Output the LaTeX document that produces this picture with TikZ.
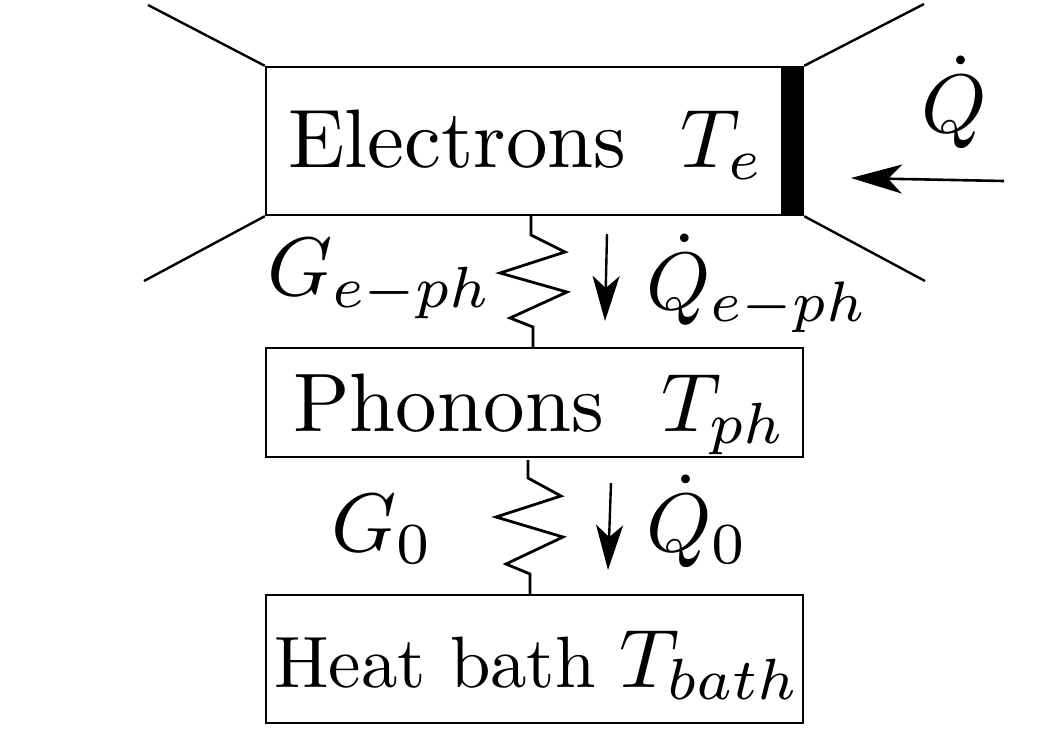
\documentclass[tikz,border=0pt,10pt]{standalone}
\usepackage{graphicx}
\usetikzlibrary{arrows.meta,calc}
\tikzset{
  thermalbox/.style={draw=black,line width=2.4pt,inner sep=0pt,fill=none},
  txt/.style={inner sep=0pt,anchor=base west,text=black},
  wing/.style={draw=black,line width=2.4pt},
  spring/.style={draw=black,line width=2.8pt,line join=miter},
  flow/.style={draw=black,line width=2.4pt,-{Stealth[length=45pt,width=27pt,inset=12pt]}},
}
\newcommand{\bigtx}[1]{\scalebox{8.3}{#1}}
\newcommand{\midtx}[1]{\scalebox{7.28}{#1}}
\begin{document}
\begin{tikzpicture}[x=1pt,y=-1pt]
\useasboundingbox (0,0) rectangle (1053,745);
\fill[white] (0,0) rectangle (1053,745);
% boxes
\node[thermalbox,minimum width=537pt,minimum height=148pt] (el) at (534.5,141) {};
\node[thermalbox,minimum width=537pt,minimum height=109pt] (ph) at (534.5,402.5) {};
\node[thermalbox,minimum width=537pt,minimum height=128pt] (hb) at (534.5,659) {};
\fill[black] (el.north east) rectangle ($(el.south east)+(-23,0)$);
% wings
\coordinate (w1) at (148,5);
\coordinate (w2) at (924,4);
\coordinate (w3) at (144,281);
\coordinate (w4) at (925,281);
\draw[wing] (el.north west) -- (w1);
\draw[wing] (el.north east) -- (w2);
\draw[wing] (el.south west) -- (w3);
\draw[wing] (el.south east) -- (w4);
% texts
\node[txt] (t1) at (288,167) {\bigtx{Electrons}};
\node[txt] (t2) at (680,167) {\bigtx{$T_e$}};
\node[txt] (t3) at (293,431) {\bigtx{Phonons}};
\node[txt] (t4) at (661,431) {\bigtx{$T_{ph}$}};
\node[txt] (t5) at (274,687) {\midtx{Heat bath}};
\node[txt] (t6) at (619,687) {\scalebox{8.3}{$T_{bath}$}};
\node[txt] (t7) at (921,132) {\bigtx{$\dot Q$}};
\node[txt] (t8) at (267,295) {\bigtx{$G_{e-ph}$}};
\node[txt] (t9) at (646,309) {\scalebox{8.15}{$\dot Q_{e-ph}$}};
\node[txt] (t10) at (331,551) {\bigtx{$G_0$}};
\node[txt] (t11) at (646,551) {\bigtx{$\dot Q_0$}};
% springs
\coordinate (s1) at (531,216);
\coordinate (s2) at (533,347);
\draw[spring] (s1) -- (531,235) -- (565,252) -- (500,273) -- (567,292) -- (510,318) -- (533,327) -- (s2);
\coordinate (s3) at (528,460);
\coordinate (s4) at (530,594);
\draw[spring] (s3) -- (528,478) -- (561,496) -- (496,517) -- (563,537) -- (506,564) -- (530,574) -- (s4);
% arrows
\coordinate (a1) at (607,234);
\coordinate (a2) at (605,321);
\draw[flow] (a1) -- (a2);
\coordinate (a3) at (611,483);
\coordinate (a4) at (608,570);
\draw[flow] (a3) -- (a4);
\coordinate (a5) at (1004,181);
\coordinate (a6) at (851,178);
\draw[flow,line width=2.6pt,-{Stealth[length=51pt,width=29pt,inset=14pt]}] (a5) -- (a6);
\end{tikzpicture}
\end{document}
